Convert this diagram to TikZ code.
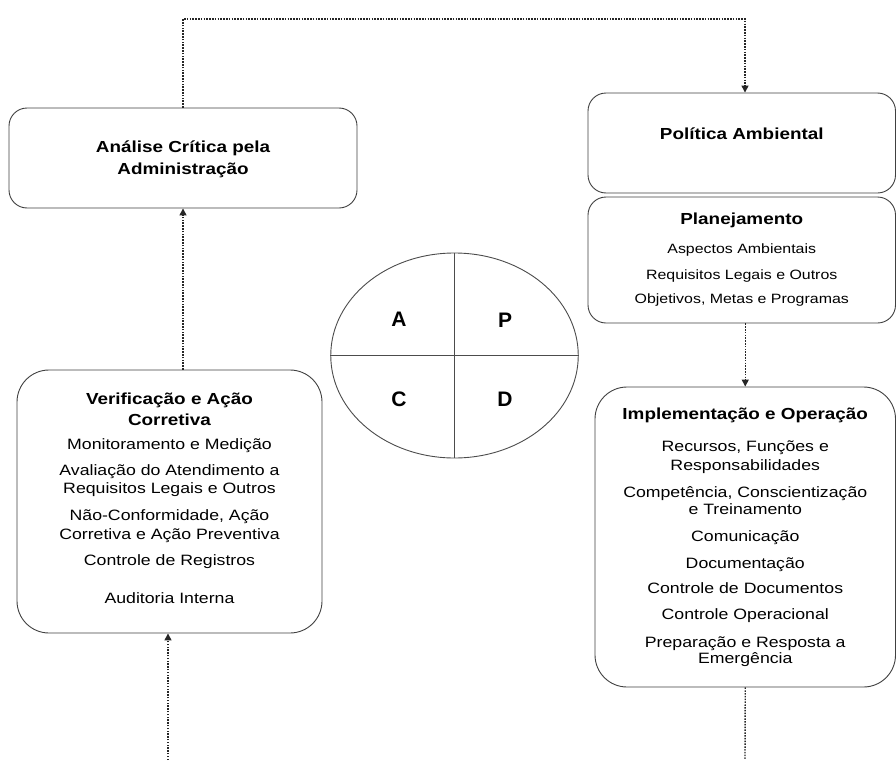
\documentclass[tikz,border=0pt]{standalone}
\usepackage{fontspec}
\setmainfont{Liberation Sans}[FakeStretch=1.18]
\newfontfamily\cyclefont{Liberation Sans}
\usetikzlibrary{shapes.geometric,arrows.meta}

\begin{document}
\begin{tikzpicture}[x=1pt,y=-1pt,
  box/.style={draw=black!75, line width=0.9pt, fill=white, rounded corners=#1,
    inner sep=0pt, rectangle},
  box/.default=18pt,
  ttl/.style={font=\bfseries\fontsize{16}{21}\selectfont, anchor=base, inner sep=0pt},
  itm/.style={font=\fontsize{15}{18}\selectfont, anchor=base, inner sep=0pt},
  sitm/.style={font=\fontsize{13.5}{16}\selectfont, anchor=base, inner sep=0pt},
  quad/.style={font=\cyclefont\bfseries\fontsize{21}{25}\selectfont, inner sep=0pt},
  conn/.style={line width=1.4pt, black!85, dash pattern=on 1.5pt off 1.3pt},
  tip/.style={-{Triangle[width=7pt,length=7pt]}}]

\useasboundingbox (0,0) rectangle (896,760);

% --- boxes ---
\node[box, minimum width=348pt, minimum height=100pt] (ana) at (183,158) {};
\node[box, minimum width=307.5pt, minimum height=100pt] (pol) at (741.75,143) {};
\node[box, minimum width=307.5pt, minimum height=126pt] (plan) at (741.75,260) {};
\node[box=32pt, minimum width=300.5pt, minimum height=300pt] (imp) at (745.25,537) {};
\node[box=32pt, minimum width=305pt, minimum height=263pt] (ver) at (169.5,501.5) {};

% --- PDCA cycle ---
\node[ellipse, draw=black!70, line width=0.9pt, fill=white,
      minimum width=247.5pt, minimum height=205pt, inner sep=0pt] (cyc) at (454.5,355.5) {};
\draw[black!70, line width=0.9pt] (cyc.north) -- (cyc.south);
\draw[black!70, line width=0.9pt] (cyc.west) -- (cyc.east);
\node[quad] (qa) at (399,319) {A};
\node[quad] (qp) at (505,320) {P};
\node[quad] (qc) at (399,399) {C};
\node[quad] (qd) at (505,399) {D};

% --- texts (placed on their baselines) ---
\node[ttl] (anat1) at (183,152.5) {Análise Crítica pela};
\node[ttl] (anat2) at (183,174.5) {Administração};

\node[ttl] (polt) at (741.75,139.5) {Política Ambiental};

\node[ttl]  (plant) at (741.75,224) {Planejamento};
\node[sitm] (plan1) at (741.75,253.5) {Aspectos Ambientais};
\node[sitm] (plan2) at (741.75,279) {Requisitos Legais e Outros};
\node[sitm] (plan3) at (741.75,303) {Objetivos, Metas e Programas};

\node[ttl] (impt)  at (745.25,419.5) {Implementação e Operação};
\node[itm] (imp1a) at (745.25,451.5) {Recursos, Funções e};
\node[itm] (imp1b) at (745.25,470) {Responsabilidades};
\node[itm] (imp2a) at (745.25,497) {Competência, Conscientização};
\node[itm] (imp2b) at (745.25,514) {e Treinamento};
\node[itm] (imp3)  at (745.25,541) {Comunicação};
\node[itm] (imp4)  at (745.25,568.5) {Documentação};
\node[itm] (imp5)  at (745.25,593) {Controle de Documentos};
\node[itm] (imp6)  at (745.25,619.5) {Controle Operacional};
\node[itm] (imp7a) at (745.25,647) {Preparação e Resposta a};
\node[itm] (imp7b) at (745.25,663) {Emergência};

\node[ttl] (vert1) at (169.5,404) {Verificação e Ação};
\node[ttl] (vert2) at (169.5,425.5) {Corretiva};
\node[itm] (ver1)  at (169.5,449) {Monitoramento e Medição};
\node[itm] (ver2a) at (169.5,475) {Avaliação do Atendimento a};
\node[itm] (ver2b) at (169.5,493) {Requisitos Legais e Outros};
\node[itm] (ver3a) at (169.5,520.5) {Não-Conformidade, Ação};
\node[itm] (ver3b) at (169.5,539) {Corretiva e Ação Preventiva};
\node[itm] (ver4)  at (169.5,565) {Controle de Registros};
\node[itm] (ver5)  at (169.5,603) {Auditoria Interna};

% --- connectors ---
\coordinate (tl) at (183,19);
\coordinate (tr) at (745,19);
\coordinate (vb) at (168,760);
\coordinate (ib) at (745,760);

\draw[conn, tip] (ana.north) -- (tl) -- (tr) -- (pol.north -| tr);
\draw[conn, tip] (imp.north |- plan.south) -- (imp.north);
\draw[conn] (imp.south) -- (ib);
\draw[conn, tip] (vb) -- (ver.south -| vb);
\draw[conn, tip] (ver.north -| ana.south) -- (ana.south);
\end{tikzpicture}
\end{document}
